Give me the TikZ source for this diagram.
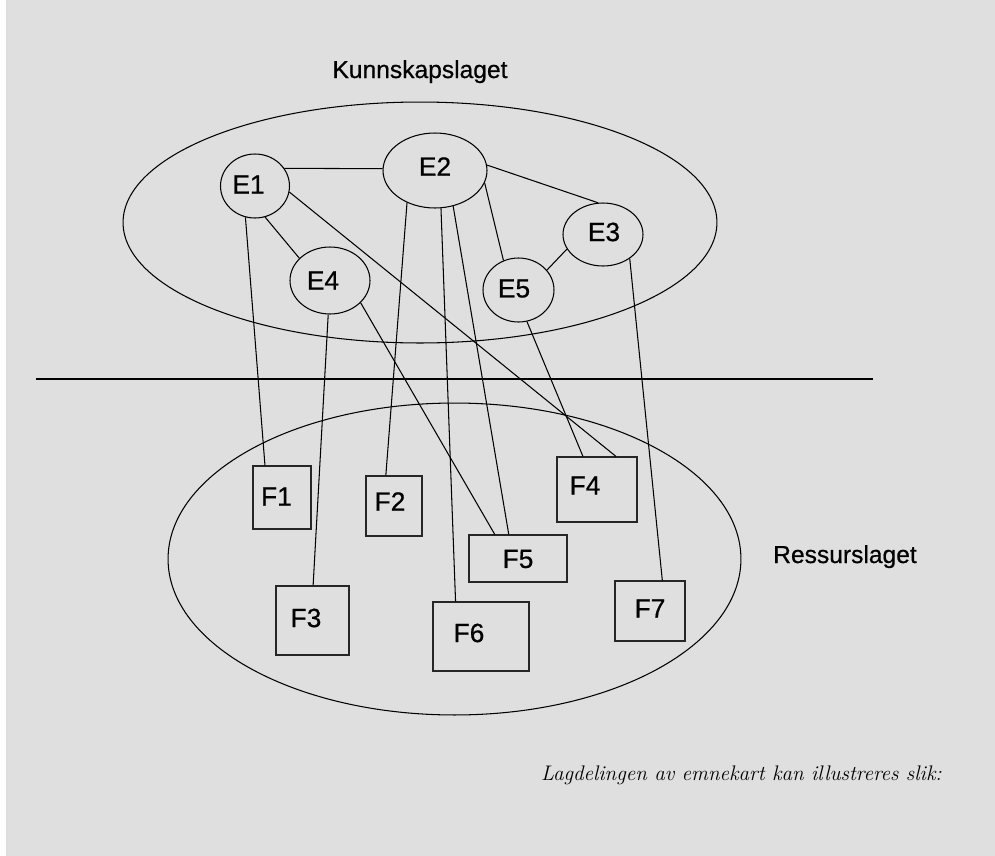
\documentclass[tikz,border=0pt]{standalone}
\usepackage{fontspec}
\usetikzlibrary{shapes.geometric}
\newfontfamily\arialfont[FakeBold=0.6]{Liberation Sans}
\definecolor{bggray}{RGB}{223,223,223}
\begin{document}
\begin{tikzpicture}[x=0.02cm, y=-0.02cm, line width=0.6pt,
		emne/.style={ellipse, draw, inner sep=0pt},
		fil/.style={rectangle, draw=black!85, inner sep=0pt},
		lbl/.style={font=\arialfont\fontsize{15}{18}\selectfont, inner sep=0pt}]
			\useasboundingbox (0,0) rectangle (995,856);
			\fill[white] (0,0) rectangle (995,856);
			\fill[bggray] (6,0) rectangle (995,856);
			% lagene
			\draw (420,222.5) ellipse [x radius=5.94cm, y radius=2.41cm];
			\draw (454.5,559) ellipse [x radius=5.73cm, y radius=3.12cm];
			\draw (36,379) -- (873,379);
			\node[font=\arialfont\fontsize{14}{17}\selectfont, anchor=base] (kunnskap) at (420,78) {Kunnskapslaget};
			\node[font=\arialfont\fontsize{14}{17}\selectfont, anchor=base] (ressurs) at (845,563) {Ressurslaget};
			% emner
			\node[emne, minimum width=1.38cm, minimum height=1.28cm, label={[lbl, shift={(-6.5,-1.5)}]center:E1}] (e1) at (255,186) {};
			\node[emne, minimum width=2.08cm, minimum height=1.50cm, label={[lbl, shift={(0,-4)}]center:E2}] (e2) at (435,170.5) {};
			\node[emne, minimum width=1.60cm, minimum height=1.26cm, label={[lbl, shift={(1,-2.5)}]center:E3}] (e3) at (603,234.5) {};
			\node[emne, minimum width=1.60cm, minimum height=1.34cm, label={[lbl, shift={(-7,0)}]center:E4}] (e4) at (330,280.5) {};
			\node[emne, minimum width=1.42cm, minimum height=1.28cm, label={[lbl, shift={(-4.5,-1.5)}]center:E5}] (e5) at (518.5,290) {};
			% ressurser
			\node[fil, minimum width=1.16cm, minimum height=1.26cm, label={[lbl, shift={(-5.5,-1)}]center:F1}] (f1) at (282,497.5) {};
			\node[fil, minimum width=1.12cm, minimum height=1.20cm, label={[lbl, shift={(-4,-4.5)}]center:F2}] (f2) at (394,506) {};
			\node[fil, minimum width=1.46cm, minimum height=1.38cm, label={[lbl, shift={(-6.5,-2.5)}]center:F3}] (f3) at (312.5,620.5) {};
			\node[fil, minimum width=1.60cm, minimum height=1.30cm, label={[lbl, shift={(-12,-4)}]center:F4}] (f4) at (597,489.5) {};
			\node[fil, minimum width=1.96cm, minimum height=0.94cm, label={[lbl, shift={(0,0.5)}]center:F5}] (f5) at (518,558.5) {};
			\node[fil, minimum width=1.92cm, minimum height=1.38cm, label={[lbl, shift={(-12,-3.5)}]center:F6}] (f6) at (481,636.5) {};
			\node[fil, minimum width=1.40cm, minimum height=1.20cm, label={[lbl, shift={(0,-2.5)}]center:F7}] (f7) at (650,611) {};
			% forbindelser
			\draw (e1.31) -- (e2.178);
			\draw (e1.-72) -- (e4.144);
			\draw (e1.-107) -- (f1.118);
			\draw (e1.-10) -- (f4.60);
			\draw (e2.6) -- (e3.99);
			\draw (e2.-14) -- (e5.117);
			\draw (e2.-131) -- (f2.105);
			\draw (e2.-81) -- (f6.126);
			\draw (e2.-63) -- (f5.111);
			\draw (e3.-158) -- (e5.35);
			\draw (e3.-42) -- (f7.68);
			\draw (e4.-93) -- (f3.89);
			\draw (e4.-36) -- (f5.134);
			\draw (e5.-75) -- (f4.113);
			\node[font=\itshape\fontsize{12}{14}\selectfont, anchor=base] (tekst) at (741.5,780) {Lagdelingen av emnekart kan illustreres slik:};
		\end{tikzpicture}
\end{document}
